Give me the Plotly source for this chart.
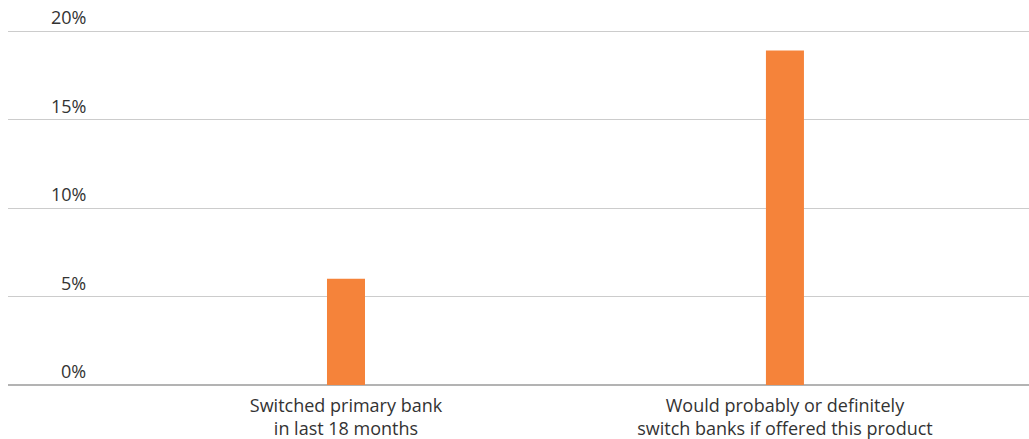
import plotly.graph_objects as go

categories = [
    "Switched primary bank<br>in last 18 months",
    "Would probably or definitely<br>switch banks if offered this product",
]
values = [6, 18.9]
tick_values = [0, 5, 10, 15, 20]
tick_labels = ["0%", "5%", "10%", "15%", "20%"]

BAR_COLOR = "#F5833A"
TEXT_COLOR = "#333333"
FONT = "Open Sans"

positions = list(range(len(categories)))

fig = go.Figure(
    go.Bar(
        x=positions,
        y=values,
        width=0.0866,
        marker=dict(color=BAR_COLOR, line=dict(width=0)),
        hoverinfo="skip",
    )
)

# Y tick labels sit above their gridlines, right-aligned near the left edge
annotations = [
    dict(
        x=0.0784, xref="paper", xanchor="right",
        y=v, yref="y", yanchor="bottom", yshift=0,
        text=t, showarrow=False,
        font=dict(family=FONT, size=18, color=TEXT_COLOR),
    )
    for v, t in zip(tick_values, tick_labels)
]

fig.update_layout(
    width=1029,
    height=439,
    margin=dict(l=8, r=0, t=28, b=54),
    paper_bgcolor="white",
    plot_bgcolor="white",
    showlegend=False,
    font=dict(family=FONT, size=18, color=TEXT_COLOR),
    xaxis=dict(
        range=[-0.770, 1.556],
        tickmode="array",
        tickvals=positions,
        ticktext=categories,
        showgrid=False,
        zeroline=False,
        showline=False,
        ticks="",
        ticklabelstandoff=8,
        tickfont=dict(family=FONT, size=18, color=TEXT_COLOR),
        fixedrange=True,
    ),
    yaxis=dict(
        range=[0, 20.17],
        tickvals=tick_values,
        showticklabels=False,
        showgrid=True,
        gridcolor="#cccccc",
        gridwidth=1,
        zeroline=True,
        zerolinecolor="#b3b3b3",
        zerolinewidth=1.5,
        showline=False,
        ticks="",
        fixedrange=True,
    ),
    annotations=annotations,
)

fig.write_html("out.html", config={"displayModeBar": False})
